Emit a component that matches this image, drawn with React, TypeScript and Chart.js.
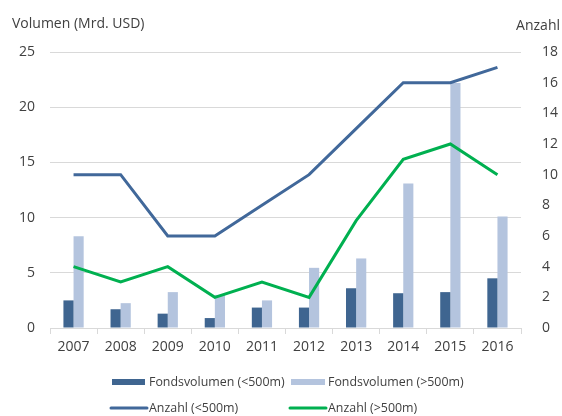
import React, { useEffect, useRef } from "react";
import { Chart, registerables } from "chart.js";

Chart.register(...registerables);

const years = ["2007", "2008", "2009", "2010", "2011", "2012", "2013", "2014", "2015", "2016"];
const volumeSmall = [2.5, 1.7, 1.3, 0.9, 1.85, 1.85, 3.6, 3.15, 3.25, 4.5];
const volumeLarge = [8.3, 2.25, 3.25, 3.0, 2.5, 5.45, 6.3, 13.1, 22.2, 10.1];
const countSmall = [10, 10, 6, 6, 8, 10, 13, 16, 16, 17];
const countLarge = [4, 3, 4, 2, 3, 2, 7, 11, 12, 10];

const leftTitle = "Volumen (Mrd. USD)";
const rightTitle = "Anzahl";

const FONT = "'Open Sans', sans-serif";
const TEXT = "#404040";
const DARK = "#3f6590";
const LIGHT = "#b4c4de";
const LINE_DARK = "#41689a";
const GREEN = "#00b050";
const GRID = "#d9d9d9";

const overlayPlugin = {
  id: "overlay",
  afterDraw(chart: any) {
    const ctx = chart.ctx;
    ctx.save();
    ctx.fillStyle = TEXT;
    ctx.font = `14px ${FONT}`;
    ctx.textBaseline = "middle";
    ctx.textAlign = "left";
    ctx.fillText(leftTitle, 12, 24);
    ctx.textAlign = "right";
    ctx.fillText(rightTitle, 560, 26);

    // legend
    ctx.font = `12.4px ${FONT}`;
    ctx.textAlign = "left";
    const row1 = 382;
    const row2 = 408;
    ctx.fillStyle = DARK;
    ctx.fillRect(112, row1 - 3, 33, 6);
    ctx.fillStyle = TEXT;
    ctx.fillText("Fondsvolumen (<500m)", 149, row1);
    ctx.fillStyle = LIGHT;
    ctx.fillRect(291, row1 - 3, 34, 6);
    ctx.fillStyle = TEXT;
    ctx.fillText("Fondsvolumen (>500m)", 328, row1);

    ctx.lineWidth = 3;
    ctx.lineCap = "round";
    ctx.strokeStyle = LINE_DARK;
    ctx.beginPath();
    ctx.moveTo(111, row2);
    ctx.lineTo(147, row2);
    ctx.stroke();
    ctx.fillStyle = TEXT;
    ctx.fillText("Anzahl (<500m)", 149, row2);
    ctx.strokeStyle = GREEN;
    ctx.beginPath();
    ctx.moveTo(290, row2);
    ctx.lineTo(326, row2);
    ctx.stroke();
    ctx.fillText("Anzahl (>500m)", 328, row2);
    ctx.restore();
  },
};

export default function App() {
  const ref = useRef<HTMLCanvasElement>(null);
  useEffect(() => {
    const chart = new Chart(ref.current as HTMLCanvasElement, {
      type: "bar",
      data: {
        labels: years,
        datasets: [
          {
            type: "line",
            label: "Anzahl (<500m)",
            data: countSmall,
            yAxisID: "y1",
            borderColor: LINE_DARK,
            borderWidth: 3,
            pointRadius: 0,
            tension: 0,
            order: 0,
          },
          {
            type: "line",
            label: "Anzahl (>500m)",
            data: countLarge,
            yAxisID: "y1",
            borderColor: GREEN,
            borderWidth: 3,
            pointRadius: 0,
            tension: 0,
            order: 0,
          },
          {
            type: "bar",
            label: "Fondsvolumen (<500m)",
            data: volumeSmall,
            yAxisID: "y",
            backgroundColor: DARK,
            categoryPercentage: 0.43,
            barPercentage: 1.0,
            order: 1,
          },
          {
            type: "bar",
            label: "Fondsvolumen (>500m)",
            data: volumeLarge,
            yAxisID: "y",
            backgroundColor: LIGHT,
            categoryPercentage: 0.43,
            barPercentage: 1.0,
            order: 1,
          },
        ] as any,
      },
      options: {
        animation: false,
        responsive: false,
        maintainAspectRatio: false,
        layout: { padding: { top: 52, bottom: 0, left: 0, right: 0 } },
        plugins: { legend: { display: false }, tooltip: { enabled: false } },
        scales: {
          x: {
            offset: true,
            grid: {
              offset: true,
              drawOnChartArea: false,
              drawTicks: true,
              tickLength: 6,
              color: GRID,
            },
            border: { display: true, color: GRID, width: 1 },
            ticks: { color: TEXT, font: { family: FONT, size: 14 }, padding: 5, maxRotation: 0 },
            afterFit(scale: any) {
              scale.height = 88;
            },
          },
          y: {
            position: "left",
            min: 0,
            max: 25,
            ticks: { stepSize: 5, color: TEXT, font: { family: FONT, size: 14 }, padding: 15 },
            grid: { color: GRID, drawTicks: false, lineWidth: 1 },
            border: { display: false },
            afterFit(scale: any) {
              scale.width = 50;
            },
          },
          y1: {
            position: "right",
            min: 0,
            max: 18,
            ticks: { stepSize: 2, color: TEXT, font: { family: FONT, size: 14 }, padding: 13 },
            grid: { display: false },
            border: { display: false },
            afterFit(scale: any) {
              scale.width = 41;
            },
          },
        },
      } as any,
      plugins: [overlayPlugin],
    });
    return () => chart.destroy();
  }, []);
  return (
    <div style={{ position: "fixed", left: 0, top: 0, width: 562, height: 416, background: "#fff" }}>
      <canvas ref={ref} width={562} height={416} style={{ width: 562, height: 416 }} />
    </div>
  );
}
